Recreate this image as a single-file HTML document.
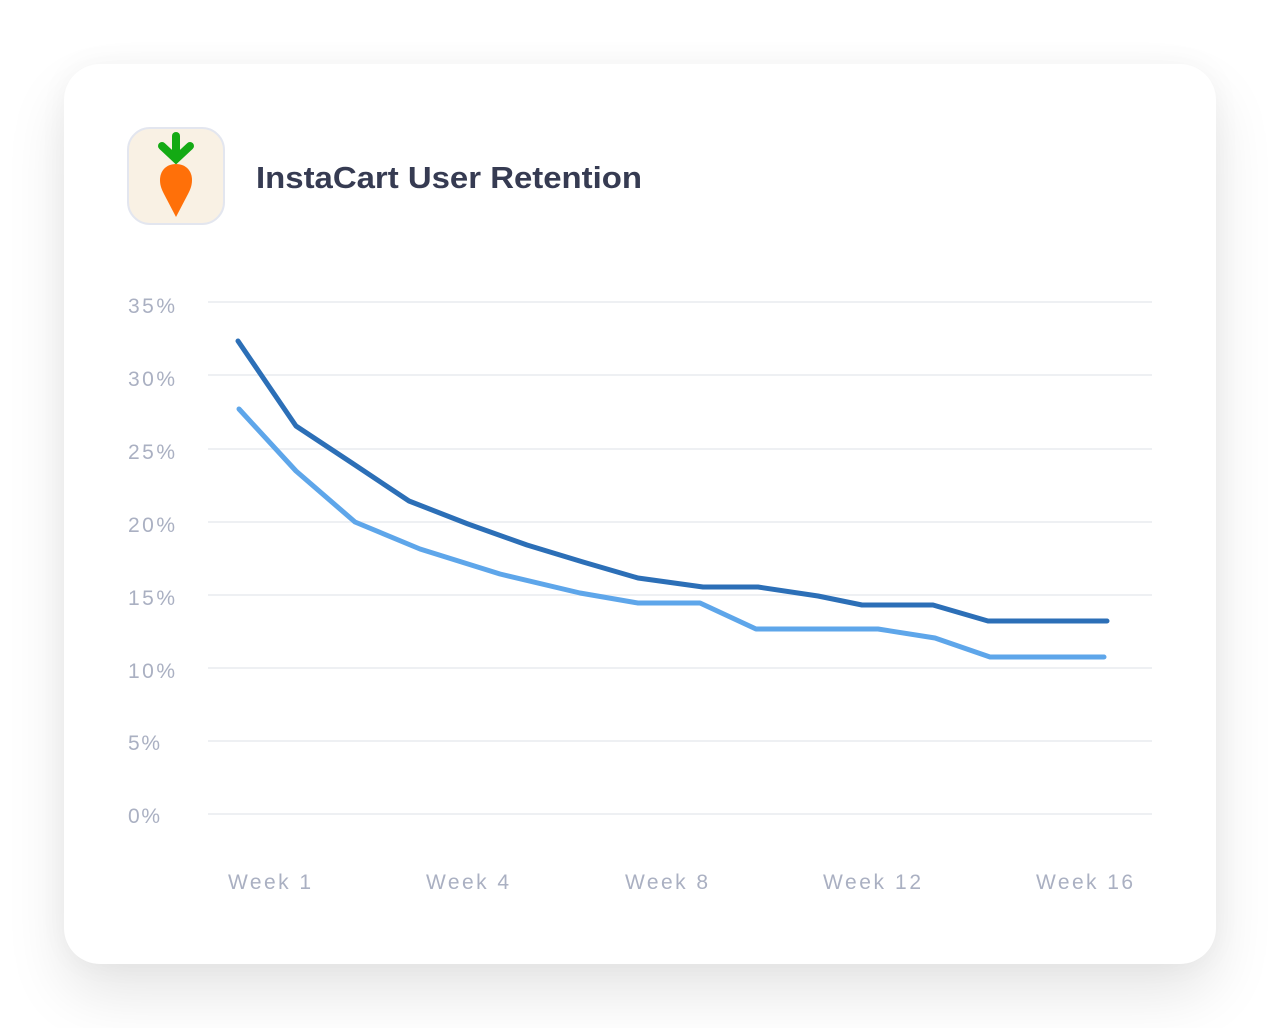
<!DOCTYPE html>
<html><head><style>
body{margin:0;width:1280px;height:1028px;background:#fff;position:relative;overflow:hidden;font-family:"Liberation Sans",sans-serif}
.card{position:absolute;left:64px;top:64px;width:1152px;height:900px;background:#fff;border-radius:36px;box-shadow:0 30px 60px rgba(0,0,0,0.10),0 0 30px rgba(0,0,0,0.04)}
</style></head><body>
<div class="card"></div>
<svg width="1280" height="1028" style="position:absolute;left:0;top:0">
<rect x="128" y="128" width="96" height="96" rx="22" fill="#f9f1e4" stroke="#e3e6ef" stroke-width="2"/>
<g stroke="#14aa14" stroke-width="8" stroke-linecap="round" fill="none"><line x1="176" y1="136" x2="176" y2="158"/><polyline points="162,146 176,159 190,146"/></g>
<path d="M176 164 C166 164 160 171 160 180 C160 186 162 190 164 194 L176 217 L188 194 C190 190 192 186 192 180 C192 171 186 164 176 164Z" fill="#ff7009"/>
<text x="256" y="188" font-size="31" font-weight="bold" fill="#363b52" textLength="386" lengthAdjust="spacingAndGlyphs">InstaCart User Retention</text>
<g stroke="#eef0f3" stroke-width="2">
<line x1="208" y1="302" x2="1152" y2="302"/><line x1="208" y1="375" x2="1152" y2="375"/><line x1="208" y1="449" x2="1152" y2="449"/><line x1="208" y1="522" x2="1152" y2="522"/><line x1="208" y1="595" x2="1152" y2="595"/><line x1="208" y1="668" x2="1152" y2="668"/><line x1="208" y1="741" x2="1152" y2="741"/><line x1="208" y1="814" x2="1152" y2="814"/>
</g>
<g font-size="21" fill="#aab0c2" lengthAdjust="spacingAndGlyphs">
<text x="128" y="313" textLength="47">35%</text><text x="128" y="386" textLength="47">30%</text><text x="128" y="459" textLength="47">25%</text><text x="128" y="532" textLength="47">20%</text><text x="128" y="605" textLength="47">15%</text><text x="128" y="678" textLength="47">10%</text><text x="128" y="750" textLength="32">5%</text><text x="128" y="823" textLength="32">0%</text>
<text x="228" y="889" textLength="83">Week 1</text><text x="426" y="889" textLength="83">Week 4</text><text x="625" y="889" textLength="83">Week 8</text><text x="823" y="889" textLength="98">Week 12</text><text x="1036" y="889" textLength="97">Week 16</text>
</g>
<polyline fill="none" stroke="#2c6fb7" stroke-width="5" stroke-linejoin="round" stroke-linecap="round" points="238,341 296,426 352,463 409,501 468,524 527,545 583,562 638,578 703,587 758,587 818,596 862,605 933,605 988,621 1107,621"/>
<polyline fill="none" stroke="#5ea6ea" stroke-width="5" stroke-linejoin="round" stroke-linecap="round" points="239,409 296,471 355,522 420,549 500,574 580,593 638,603 700,603 756,629 878,629 935,638 990,657 1104,657"/>
</svg>
</body></html>
